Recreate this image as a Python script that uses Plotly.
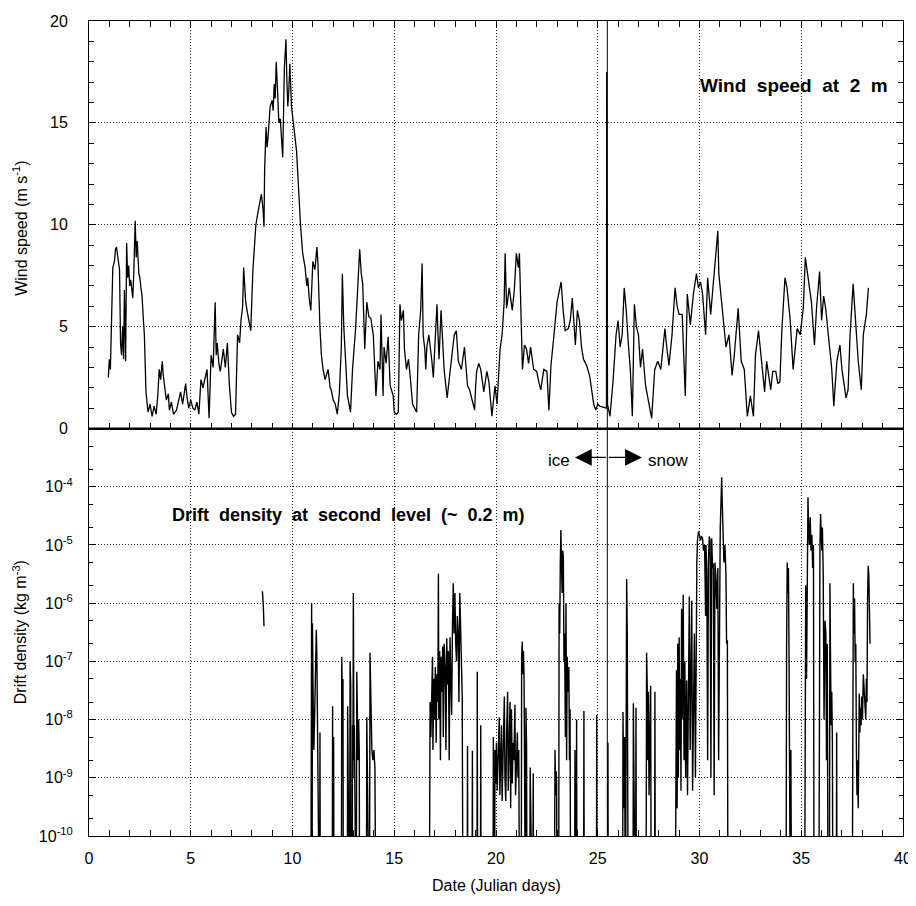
import plotly.graph_objects as go

# ---------------- data ----------------
wind_day = [
    0.95, 1.0, 1.05, 1.1, 1.17, 1.25, 1.3, 1.35, 1.4, 1.45,
    1.5, 1.55, 1.6, 1.65, 1.7, 1.74, 1.8, 1.85, 1.9, 1.95,
    2.0, 2.05, 2.1, 2.15, 2.2, 2.27, 2.32, 2.37, 2.45, 2.5,
    2.55, 2.6, 2.67, 2.72, 2.8, 2.85, 2.9, 3.0, 3.1, 3.2,
    3.3, 3.38, 3.45, 3.52, 3.6, 3.65, 3.7, 3.8, 3.9, 3.95,
    4.05, 4.15, 4.3, 4.4, 4.5, 4.6, 4.75, 4.82, 4.9, 5.0,
    5.1, 5.2, 5.3, 5.4, 5.5, 5.6, 5.7, 5.8, 5.9, 6.0,
    6.1, 6.2, 6.25, 6.3, 6.38, 6.45, 6.55, 6.6, 6.7, 6.8,
    6.9, 7.0, 7.1, 7.2, 7.3, 7.4, 7.47, 7.55, 7.6, 7.7,
    7.8, 7.9, 7.95, 8.05, 8.12, 8.2, 8.3, 8.4, 8.47, 8.55,
    8.6, 8.63, 8.7, 8.75, 8.8, 8.9, 9.0, 9.05, 9.1, 9.15,
    9.2, 9.27, 9.33, 9.4, 9.45, 9.52, 9.6, 9.68, 9.72, 9.77,
    9.82, 9.87, 9.95, 10.02, 10.1, 10.2, 10.3, 10.4, 10.5, 10.62,
    10.7, 10.75, 10.82, 10.9, 11.0, 11.1, 11.2, 11.25, 11.35, 11.42,
    11.5, 11.6, 11.75, 11.85, 11.9, 12.0, 12.1, 12.2, 12.3, 12.4,
    12.45, 12.52, 12.6, 12.7, 12.78, 12.85, 12.95, 13.05, 13.1, 13.2,
    13.3, 13.38, 13.45, 13.55, 13.65, 13.75, 13.85, 13.97, 14.05, 14.1,
    14.2, 14.3, 14.35, 14.45, 14.5, 14.6, 14.7, 14.8, 14.95, 15.0,
    15.1, 15.2, 15.28, 15.35, 15.45, 15.5, 15.6, 15.7, 15.78, 15.85,
    15.9, 16.0, 16.1, 16.2, 16.3, 16.37, 16.42, 16.5, 16.55, 16.6,
    16.7, 16.85, 16.92, 17.0, 17.1, 17.15, 17.2, 17.3, 17.38, 17.45,
    17.6, 17.7, 17.8, 17.95, 18.05, 18.15, 18.3, 18.45, 18.52, 18.6,
    18.7, 18.8, 18.9, 18.95, 19.0, 19.05, 19.15, 19.25, 19.4, 19.5,
    19.55, 19.65, 19.8, 19.95, 20.05, 20.2, 20.3, 20.4, 20.45, 20.52,
    20.65, 20.8, 20.9, 21.0, 21.1, 21.15, 21.2, 21.3, 21.4, 21.5,
    21.6, 21.7, 21.85, 22.0, 22.1, 22.2, 22.35, 22.5, 22.6, 22.7,
    22.85, 23.0, 23.1, 23.2, 23.3, 23.4, 23.55, 23.65, 23.75, 23.9,
    24.0, 24.1, 24.2, 24.3, 24.45, 24.6, 24.7, 24.8, 24.9, 25.0,
    25.1, 25.43, 25.44, 25.45, 25.46, 25.48, 25.6, 25.75, 25.9, 26.0,
    26.1, 26.2, 26.3, 26.4, 26.5, 26.6, 26.7, 26.8, 26.9, 27.0,
    27.1, 27.2, 27.35, 27.5, 27.65, 27.8, 27.95, 28.1, 28.2, 28.3,
    28.4, 28.5, 28.65, 28.8, 28.9, 29.0, 29.15, 29.3, 29.4, 29.55,
    29.7, 29.85, 29.95, 30.05, 30.15, 30.3, 30.4, 30.55, 30.65, 30.75,
    30.9, 30.95, 31.1, 31.2, 31.3, 31.45, 31.6, 31.7, 31.8, 31.9,
    32.05, 32.2, 32.35, 32.5, 32.65, 32.75, 32.9, 33.05, 33.2, 33.3,
    33.4, 33.5, 33.6, 33.75, 33.85, 33.95, 34.05, 34.2, 34.3, 34.45,
    34.6, 34.7, 34.8, 34.95, 35.1, 35.2, 35.35, 35.5, 35.65, 35.75,
    35.9, 36.0, 36.1, 36.2, 36.35, 36.5, 36.6, 36.75, 36.9, 37.0,
    37.1, 37.2, 37.3, 37.4, 37.55, 37.7, 37.8, 37.95, 38.05, 38.2, 38.3,
]
wind_speed = [
    2.5, 3.4, 2.9, 4.8, 7.9, 8.2, 8.8, 8.9, 8.5, 8.0,
    7.8, 4.2, 3.6, 5.0, 3.4, 6.8, 3.3, 9.1, 7.4, 8.0,
    7.0, 7.3, 6.9, 6.4, 7.6, 10.2, 8.4, 9.2, 7.6, 7.4,
    6.9, 6.6, 5.4, 4.6, 1.8, 1.3, 0.8, 1.2, 0.6, 1.1,
    0.7, 1.6, 2.9, 2.4, 3.3, 2.6, 2.2, 1.4, 1.7, 0.9,
    1.3, 0.7, 0.9, 1.3, 1.8, 1.2, 2.2, 1.5, 1.0, 1.4,
    1.0, 0.9, 1.3, 0.7, 2.4, 2.0, 2.5, 2.9, 0.5, 3.6,
    3.0, 6.2, 3.6, 4.2, 3.2, 2.8, 3.5, 3.9, 3.0, 4.2,
    2.1, 0.8, 0.6, 0.7, 4.6, 4.2, 5.3, 6.0, 7.9, 6.2,
    5.6, 4.9, 4.8, 7.7, 8.6, 10.0, 10.6, 11.2, 11.5, 10.8,
    9.9, 12.7, 14.8, 13.8, 14.3, 15.8, 16.1, 15.6, 16.9, 16.2,
    18.0, 16.5, 15.0, 15.2, 14.2, 13.3, 17.7, 19.1, 17.2, 15.8,
    16.6, 17.9, 15.8, 15.0, 14.5, 13.6, 11.5, 9.9, 8.6, 7.9,
    7.0, 7.4, 6.4, 5.8, 8.2, 7.8, 8.9, 8.1, 4.9, 3.6,
    2.9, 2.4, 2.9, 2.0, 1.9, 1.4, 1.2, 0.7, 1.7, 4.0,
    7.6, 5.0, 3.5, 1.6, 1.2, 0.8, 2.9, 4.2, 4.9, 6.8,
    8.8, 7.6, 7.1, 3.9, 6.2, 5.5, 5.4, 4.6, 2.5, 1.6,
    3.3, 2.9, 5.6, 1.6, 4.0, 3.2, 4.5, 2.1, 1.6, 0.8,
    0.7, 0.8, 6.1, 5.3, 5.8, 3.9, 2.9, 3.4, 2.6, 1.9,
    1.2, 1.0, 0.8, 4.6, 5.8, 8.1, 4.6, 3.9, 2.9, 4.0,
    4.6, 3.3, 2.5, 4.1, 6.1, 4.6, 3.4, 5.8, 4.0, 2.9,
    1.5, 2.5, 3.3, 4.6, 4.8, 3.3, 2.9, 4.0, 3.0, 2.1,
    1.9, 1.5, 1.2, 0.9, 2.1, 2.8, 3.2, 2.9, 1.8, 2.5,
    2.8, 2.3, 0.6, 2.1, 1.2, 3.9, 4.6, 6.2, 8.6, 5.9,
    6.9, 5.8, 6.8, 8.6, 7.9, 8.6, 6.1, 2.9, 4.1, 3.9,
    3.2, 4.0, 2.9, 2.8, 2.3, 1.9, 2.9, 2.8, 0.9, 3.1,
    4.6, 6.2, 6.7, 7.2, 5.8, 4.8, 4.9, 5.3, 6.4, 4.1,
    5.8, 5.3, 4.0, 3.4, 3.1, 2.6, 1.9, 1.2, 0.9, 1.2,
    1.1, 1.0, 17.5, 12.0, 14.0, 1.2, 0.6, 2.3, 4.6, 5.3,
    4.0, 4.6, 6.9, 5.8, 4.2, 2.9, 0.6, 6.1, 5.0, 4.6,
    3.0, 3.9, 2.1, 1.2, 0.5, 2.9, 3.3, 2.9, 4.0, 4.9,
    3.9, 3.1, 4.6, 6.9, 6.0, 5.6, 5.6, 1.6, 6.6, 5.1,
    6.6, 7.6, 6.9, 7.2, 6.6, 4.6, 7.4, 5.6, 6.8, 7.9,
    9.7, 7.6, 5.9, 4.8, 4.0, 4.6, 2.6, 3.5, 4.6, 5.9,
    3.3, 2.9, 0.6, 1.6, 0.6, 3.6, 4.8, 3.3, 1.8, 3.3,
    2.5, 1.9, 2.8, 2.8, 2.2, 2.3, 4.9, 7.4, 6.9, 5.4,
    2.9, 4.0, 4.9, 4.6, 5.9, 8.4, 7.2, 6.2, 4.1, 5.9,
    7.7, 5.3, 6.5, 5.9, 4.4, 2.9, 1.1, 3.3, 4.1, 2.9,
    2.2, 1.5, 1.9, 4.6, 7.1, 4.8, 3.3, 1.9, 4.6, 5.6, 6.9,
]

# drift density (kg m-3); 0 = no drift measured, None = no data
drift_day = [
    1.0, 8.45, 8.5, 8.52, 8.56, 8.6, 8.62, 10.9, 10.94, 10.96,
    10.98, 11.02, 11.05, 11.1, 11.17, 11.2, 11.23, 11.33, 11.35, 11.37,
    11.95, 11.97, 11.99, 12.02, 12.04, 12.4, 12.42, 12.45, 12.48, 12.5,
    12.69, 12.71, 12.73, 12.8, 12.83, 12.86, 12.88, 12.93, 12.95, 12.97,
    12.99, 13.0, 13.02, 13.04, 13.06, 13.13, 13.16, 13.19, 13.22, 13.25,
    13.28, 13.3, 13.63, 13.65, 13.67, 13.78, 13.81, 13.84, 13.87, 13.9,
    13.95, 14.0, 14.05, 14.1, 16.72, 16.76, 16.8, 16.84, 16.88, 16.9,
    16.94, 16.98, 17.02, 17.06, 17.1, 17.14, 17.17, 17.19, 17.23, 17.27,
    17.3, 17.34, 17.38, 17.41, 17.45, 17.5, 17.54, 17.58, 17.62, 17.66,
    17.7, 17.74, 17.78, 17.82, 17.86, 17.9, 17.94, 17.98, 18.02, 18.06,
    18.1, 18.14, 18.18, 18.22, 18.26, 18.3, 18.34, 18.38, 18.58, 18.6,
    18.62, 18.82, 18.84, 18.86, 19.06, 19.08, 19.1, 19.23, 19.25, 19.27,
    19.85, 19.87, 19.89, 19.93, 19.95, 19.98, 20.02, 20.06, 20.1, 20.16,
    20.19, 20.23, 20.27, 20.3, 20.34, 20.38, 20.41, 20.44, 20.48, 20.52,
    20.57, 20.6, 20.64, 20.69, 20.72, 20.76, 20.8, 20.84, 20.88, 20.93,
    20.96, 21.0, 21.05, 21.08, 21.12, 21.16, 21.24, 21.26, 21.29, 21.32,
    21.35, 21.38, 21.4, 21.43, 21.45, 21.47, 21.5, 21.53, 21.65, 21.68,
    21.7, 21.8, 21.83, 21.85, 22.86, 22.9, 22.93, 22.96, 22.98, 23.0,
    23.08, 23.1, 23.13, 23.16, 23.19, 23.22, 23.25, 23.28, 23.31, 23.34,
    23.37, 23.41, 23.44, 23.47, 23.5, 23.54, 23.58, 23.61, 23.64, 23.67,
    23.86, 23.88, 23.92, 23.94, 23.96, 23.98, 24.3, 24.32, 24.34, 24.93,
    24.95, 24.97, 25.48, 25.5, 25.52, 26.22, 26.24, 26.28, 26.32, 26.36,
    26.38, 26.4, 26.42, 26.45, 26.48, 26.5, 26.73, 26.75, 26.78, 26.85,
    26.88, 26.9, 27.37, 27.4, 27.43, 27.46, 27.49, 27.52, 27.56, 27.6,
    27.63, 27.79, 27.81, 27.83, 28.8, 28.84, 28.87, 28.9, 28.93, 28.96,
    29.0, 29.03, 29.06, 29.09, 29.12, 29.15, 29.2, 29.24, 29.28, 29.32,
    29.37, 29.41, 29.45, 29.5, 29.54, 29.58, 29.62, 29.66, 29.7, 29.75,
    29.8, 29.83, 29.87, 29.9, 29.95, 30.0, 30.05, 30.1, 30.15, 30.2,
    30.25, 30.3, 30.32, 30.36, 30.4, 30.44, 30.48, 30.52, 30.56, 30.6,
    30.64, 30.68, 30.72, 30.76, 30.8, 30.85, 30.9, 30.94, 30.98, 31.02,
    31.06, 31.09, 31.12, 31.16, 31.2, 31.25, 31.3, 31.33, 31.37, 31.4,
    34.25, 34.28, 34.31, 34.34, 34.37, 34.4, 34.43, 34.47, 34.49, 34.51,
    34.53, 35.16, 35.22, 35.26, 35.3, 35.33, 35.36, 35.4, 35.44, 35.48,
    35.52, 35.56, 35.6, 35.63, 35.86, 35.89, 35.92, 35.95, 35.98, 36.01,
    36.04, 36.08, 36.12, 36.17, 36.21, 36.24, 36.28, 36.32, 36.38, 36.41,
    36.44, 36.47, 36.5, 36.53, 36.56, 36.72, 36.74, 36.76, 37.5, 37.53,
    37.56, 37.59, 37.62, 37.65, 37.68, 37.71, 37.74, 37.77, 37.8, 37.85,
    37.88, 37.91, 37.94, 37.97, 38.01, 38.05, 38.09, 38.13, 38.17, 38.2,
    38.23, 38.26, 38.29, 38.32, 38.35, 38.38,
]
drift_density = [
    0, 0, None, 1.6e-6, 1.0e-6, 4e-7, None, 0, 1.0e-6, 0,
    4.5e-7, 1.5e-8, 3e-9, 2e-8, 3.5e-7, 1e-7, 0, 0, 6e-9, 0,
    0, 1.7e-8, 0, 5e-9, 0, 0, 1.2e-7, 1.5e-8, 5e-8, 0,
    0, 1.7e-8, 0, 0, 1.0e-7, 4e-8, 0, 0, 8e-9, 1e-9,
    1.5e-6, 5e-9, 2e-9, 8e-9, 0, 0, 6.6e-8, 8e-9, 2e-9, 1e-8,
    3e-9, 0, 0, 1.1e-8, 0, 0, 1.4e-7, 3e-8, 1.5e-8, 3e-9,
    2e-9, 3e-9, 1.5e-9, 0, 0, 2e-8, 5e-9, 1.5e-8, 1.2e-7, 3e-9,
    5e-8, 1e-8, 8e-8, 4e-9, 6e-8, 2e-8, 3.2e-6, 1e-8, 1.5e-7, 2e-9,
    1.2e-7, 3e-8, 1.8e-7, 5e-9, 2e-7, 8e-8, 3e-9, 2.5e-7, 4e-8, 1.5e-7,
    2e-9, 2.6e-7, 6e-8, 1.2e-8, 4e-7, 2.2e-6, 3e-7, 1.5e-6, 2e-7, 1e-7,
    6e-7, 3e-7, 2e-8, 1.5e-6, 4e-7, 1e-7, 2.5e-8, 0, 0, 3.5e-9,
    0, 0, 2.9e-9, 0, 0, 6.6e-8, 0, 0, 8e-9, 0,
    0, 5e-9, 0, 0, 3e-9, 8e-10, 4e-9, 6e-10, 2e-9, 1.1e-8,
    5e-10, 3e-9, 8e-9, 4e-10, 2e-9, 6e-9, 2.5e-8, 1e-9, 4e-10, 5e-9,
    3e-8, 6e-10, 2e-9, 2e-8, 3e-10, 1.5e-8, 8e-10, 4e-9, 2e-9, 1.8e-8,
    5e-10, 2e-9, 6e-9, 1e-9, 3e-9, 0, 0, 1.2e-7, 2.2e-7, 6e-8,
    1.5e-7, 5e-8, 1e-9, 0, 0, 1.6e-8, 4e-9, 0, 0, 1.5e-9,
    0, 0, 1.2e-9, 0, 0, 3e-9, 5e-10, 1.3e-9, 8e-10, 0,
    0, 1e-6, 3e-7, 5e-6, 1.8e-5, 4e-6, 1.5e-6, 8e-6, 6e-6, 1e-7,
    3e-7, 5e-9, 1e-6, 2e-9, 1.2e-7, 3e-8, 8e-8, 2e-9, 1.5e-8, 0,
    0, 3e-9, 0, 0, 1e-8, 0, 0, 1.4e-8, 0, 0,
    1.2e-8, 0, 0, 4e-9, 0, 0, 1.35e-8, 3e-10, 5e-9, 0,
    0, 1.5e-7, 2.6e-6, 3e-7, 2e-8, 0, 0, 1.9e-8, 0, 0,
    1.6e-8, 0, 0, 1.4e-7, 4e-8, 2e-9, 3e-8, 5e-10, 1e-8, 3.8e-8,
    0, 0, 3e-8, 0, 0, 5e-9, 7e-8, 3e-10, 2e-7, 1e-9,
    2.6e-7, 3e-9, 5e-8, 6e-10, 8e-7, 1e-8, 1.4e-6, 2e-9, 1e-7, 1e-9,
    4.7e-8, 5e-10, 1e-7, 1.3e-6, 3e-9, 2e-7, 1.1e-6, 6e-10, 5e-8, 3e-7,
    1e-9, 1.2e-6, 5e-6, 1.2e-5, 1.7e-5, 1.5e-5, 1.2e-5, 1.4e-5, 1.3e-5, 8e-6,
    1e-5, 6e-7, 1e-5, 3e-6, 2e-9, 5e-6, 1.4e-5, 1.2e-5, 1e-9, 1.3e-5,
    4e-6, 4.8e-6, 5e-10, 5e-6, 3e-6, 8e-7, 4e-6, 2e-9, 1.2e-6, 2e-5,
    6e-5, 1.45e-4, 5e-5, 1.5e-5, 5e-6, 1e-5, 3e-6, 2e-7, 2.3e-7, 0,
    0, 2e-7, 5e-6, 1.5e-6, 4e-6, 1.2e-7, 0, 0, 3e-9, 1e-9,
    0, 0, 2e-6, 5e-8, 3e-5, 6.6e-5, 2e-5, 1e-5, 3e-5, 8e-6,
    1.5e-5, 4e-6, 1e-5, 0, 0, 3e-7, 1e-5, 3.4e-5, 2e-5, 8e-6,
    2e-5, 3e-6, 1e-8, 5e-7, 3e-7, 2e-9, 2e-7, 0, 0, 2.2e-6,
    1e-7, 8e-9, 3e-8, 4e-9, 0, 0, 6e-9, 0, 0, 1e-6,
    2.2e-6, 3e-7, 1.2e-6, 1e-7, 2e-7, 3e-9, 5e-10, 2e-9, 3e-10, 2.8e-8,
    6e-9, 1.6e-8, 8e-9, 2.5e-8, 1e-8, 6e-8, 3e-8, 1.8e-8, 1e-8, 5e-8,
    2e-8, 1.2e-6, 4.4e-6, 3e-6, 8e-7, 2e-7,
]

x_ticks = [0, 5, 10, 15, 20, 25, 30, 35, 40]
wind_ticks = [0, 5, 10, 15, 20]
drift_tick_exp = [-10, -9, -8, -7, -6, -5, -4]
surface_change_day = 25.47

# zero drift is drawn down to a floor below the axis (vertical drops)
FLOOR = 1e-12
drift_plot = [v if v is None else (v if v > 0 else FLOOR) for v in drift_density]

FONT = "Liberation Sans, Arial, Helvetica, sans-serif"
GRID = dict(showgrid=True, gridcolor="#222", griddash="1px,2px", gridwidth=1)

fig = go.Figure()
fig.add_trace(go.Scatter(x=wind_day, y=wind_speed, mode="lines",
                         line=dict(color="black", width=1.3),
                         xaxis="x", yaxis="y", showlegend=False))
fig.add_trace(go.Scatter(x=drift_day, y=drift_plot, mode="lines",
                         line=dict(color="black", width=1.4),
                         connectgaps=False,
                         xaxis="x2", yaxis="y2", showlegend=False))

common_x = dict(range=[0, 40], tickvals=x_ticks, ticks="inside", ticklen=6,
                tickcolor="black", tickwidth=1, automargin=False,
                ticklabeloverflow="allow",
                minor=dict(dtick=1, tick0=0, ticks="inside", ticklen=6,
                           tickcolor="black", showgrid=False),
                showline=True, linecolor="black", linewidth=1,
                zeroline=False, **GRID)

# the page body adds an 8 px offset, so the figure starts at (8, 8)
fig.update_layout(
    width=908, height=890,
    margin=dict(l=81, r=13, t=13, b=62, autoexpand=False),
    paper_bgcolor="white", plot_bgcolor="white",
    font=dict(family=FONT, size=16, color="black"),
    xaxis=dict(domain=[0, 1], anchor="y", showticklabels=False,
               mirror="allticks", **common_x),
    xaxis2=dict(domain=[0, 1], anchor="y2", matches="x", mirror=True,
                ticktext=[str(v) for v in x_ticks], ticklabelstandoff=8,
                **common_x),
    yaxis=dict(domain=[0.5, 1], anchor="x", range=[0, 20], tickvals=wind_ticks,
               ticks="inside", ticklen=6, tickcolor="black", automargin=False,
               minor=dict(dtick=1, tick0=0, ticks="inside", ticklen=5,
                          tickcolor="black", showgrid=False),
               showline=True, linecolor="black", linewidth=1,
               mirror="allticks", zeroline=False, ticklabelstandoff=17, **GRID),
    yaxis2=dict(domain=[0, 0.5], anchor="x2", type="log", range=[-10, -3],
                tickvals=[10 ** e for e in drift_tick_exp],
                ticktext=["10<sup>%d</sup>" % e for e in drift_tick_exp],
                ticks="inside", ticklen=7, tickcolor="black", automargin=False,
                minor=dict(ticks="inside", ticklen=4, tickcolor="black",
                           showgrid=False),
                showline=True, linecolor="black", linewidth=1,
                mirror="allticks", zeroline=False, ticklabelstandoff=12, **GRID),
)

# boundary between panels and the ice/snow transition line
fig.add_shape(type="line", xref="paper", yref="paper", x0=0, x1=1, y0=0.5, y1=0.5,
              line=dict(color="black", width=2))
fig.add_shape(type="line", xref="x", yref="paper", x0=surface_change_day,
              x1=surface_change_day, y0=0, y1=1, line=dict(color="black", width=1))

bold = dict(family=FONT, size=18, color="black", weight="bold")
SP = "\u00a0\u00a0"
fig.add_annotation(xref="x", yref="y", x=39.35, y=16.85, xanchor="right",
                   yanchor="middle", showarrow=False,
                   text=SP.join(["Wind", "speed", "at", "2", "m"]),
                   font=dict(family=FONT, size=19, color="black", weight="bold"))
fig.add_annotation(xref="x2", yref="y2", x=3.98, y=-4.49, xanchor="left",
                   yanchor="middle", showarrow=False,
                   text=SP.join(["Drift", "density", "at", "second", "level", "(~", "0.2", "m)"]),
                   font=bold)

# ice <-> snow arrows
arrow_y = -3.497
for tip in (23.88, 27.17):
    fig.add_annotation(xref="x2", yref="y2", x=tip, y=arrow_y,
                       axref="x2", ayref="y2", ax=surface_change_day, ay=arrow_y,
                       showarrow=True, arrowhead=2, arrowsize=2.8, arrowwidth=1.2,
                       arrowcolor="black", text="")
fig.add_annotation(xref="x2", yref="y2", x=23.73, y=-3.55, xanchor="right",
                   yanchor="middle", showarrow=False, text="ice",
                   font=dict(family=FONT, size=17))
fig.add_annotation(xref="x2", yref="y2", x=27.37, y=-3.55, xanchor="left",
                   yanchor="middle", showarrow=False, text="snow",
                   font=dict(family=FONT, size=17))

# axis titles
fig.add_annotation(xref="paper", yref="paper", x=(20 - 89) / 814, y=0.745,
                   textangle=-90, showarrow=False, xanchor="center", yanchor="middle",
                   text="Wind speed (m s<sup>-1</sup>)", font=dict(family=FONT, size=16))
fig.add_annotation(xref="paper", yref="paper", x=(20 - 89) / 814, y=0.25,
                   textangle=-90, showarrow=False, xanchor="center", yanchor="middle",
                   text="Drift density (kg m<sup>-3</sup>)", font=dict(family=FONT, size=16))
fig.add_annotation(xref="paper", yref="paper", x=(496 - 89) / 814, y=(836 - 885) / 815,
                   showarrow=False, xanchor="center", yanchor="middle",
                   text="Date (Julian days)", font=dict(family=FONT, size=16))

fig.write_html("out.html")
